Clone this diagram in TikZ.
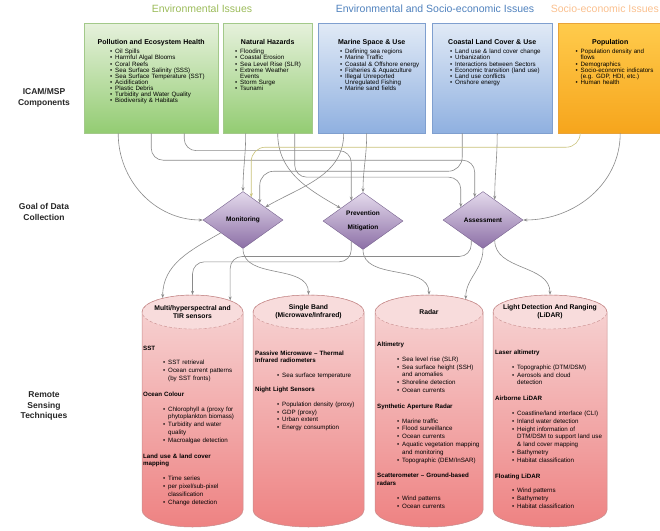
\documentclass[tikz,border=0pt]{standalone}
\usepackage{fontspec}
\setmainfont{Liberation Sans}
\usetikzlibrary{shapes.geometric,arrows.meta}

\definecolor{envgreen}{HTML}{9BBB59}
\definecolor{envblue}{HTML}{4F81BD}
\definecolor{socorange}{HTML}{FAC08F}
\definecolor{greentop}{HTML}{E6F1DC}
\definecolor{greenbot}{HTML}{93CC72}
\definecolor{greenline}{HTML}{A3C98A}
\definecolor{bluetop}{HTML}{E1EAF6}
\definecolor{bluebot}{HTML}{8FB0E0}
\definecolor{blueline}{HTML}{7F9FCF}
\definecolor{orangetop}{HTML}{FFCB4C}
\definecolor{orangebot}{HTML}{F6A51C}
\definecolor{orangeline}{HTML}{E8A33A}
\definecolor{purpletop}{HTML}{E4DAEC}
\definecolor{purplebot}{HTML}{8C6FA6}
\definecolor{purpleline}{HTML}{77628E}
\definecolor{cyltop}{HTML}{F6D0D0}
\definecolor{cylbot}{HTML}{EE8282}
\definecolor{cyledge}{HTML}{C78C8C}
\definecolor{cappink}{HTML}{F8DCDC}
\definecolor{linegray}{HTML}{8A8A8A}
\definecolor{yellowline}{HTML}{C9C27A}

\hyphenpenalty=10000
\exhyphenpenalty=10000
\newlength{\bulletind}
\newcommand{\itm}[1]{\par\noindent\hangindent=\bulletind\hspace*{\dimexpr\bulletind-5pt\relax}\makebox[5pt][l]{\textbullet}#1}
\newcommand{\sect}[2][8pt]{\par\vspace{#1}\noindent\textbf{#2}\par\vspace{7pt}}
\newcommand{\boxtitle}[1]{{\centering\bfseries\fontsize{7}{8}\selectfont #1\par}\vspace{3.5pt}}

\tikzset{
  issue/.style = {font=\fontsize{10.5}{12}\selectfont, inner sep=0pt},
  sidelabel/.style = {font=\bfseries\fontsize{8.5}{10.5}\selectfont, align=center, text=black!85},
  issuebox/.style = {anchor=north west, inner sep=0pt, minimum height=110pt, line width=0.4pt},
  greenbox/.style = {issuebox, top color=greentop, bottom color=greenbot, draw=greenline},
  bluebox/.style = {issuebox, top color=bluetop, bottom color=bluebot, draw=blueline},
  orangebox/.style = {issuebox, top color=orangetop, bottom color=orangebot, draw=orangeline},
  boxtext/.style = {anchor=north, inner sep=0pt, align=left, font=\fontsize{6.2}{6.1}\selectfont},
  goal/.style = {diamond, minimum width=80pt, minimum height=57pt, inner sep=0pt,
    top color=purpletop, bottom color=purplebot, draw=purpleline,
    font=\bfseries\fontsize{6.5}{7.5}\selectfont, align=center},
  cylbody/.style = {top color=cyltop, bottom color=cylbot},
  cylline/.style = {draw=cyledge, line width=0.5pt},
  topcap/.style = {ellipse, minimum height=34pt, inner sep=0pt, fill=cappink, draw=cyledge, densely dashed, line width=0.4pt},
  captitle/.style = {font=\bfseries\fontsize{6.8}{7.6}\selectfont, align=center, inner sep=0pt},
  techtext/.style = {anchor=north west, inner sep=0pt, align=left, font=\fontsize{6.2}{7.8}\selectfont},
  conn/.style = {->, >={Stealth[length=4pt,width=3pt]}, draw=linegray, line width=0.6pt}
}

\begin{document}
\begin{tikzpicture}[x=1pt,y=1pt]
  \useasboundingbox (0,0) rectangle (660,-530);

  % issue headings
  \node[issue, text=envgreen] (envissues) at (202,-9) {Environmental Issues};
  \node[issue, text=envblue] (mixissues) at (435,-9) {Environmental and Socio-economic Issues};
  \node[issue, text=socorange, anchor=east] (socissues) at (659,-9) {Socio-economic Issues};

  % row labels
  \node[sidelabel] (icam) at (44,-98) {ICAM/MSP\\Components};
  \node[sidelabel] (goallabel) at (44,-212) {Goal of Data\\Collection};
  \node[sidelabel] (rslabel) at (44,-406) {Remote\\Sensing\\Techniques};

  % ICAM/MSP components
  \node[greenbox, minimum width=134pt] (pollution) at (84,-23) {};
  \node[greenbox, minimum width=89pt] (hazards) at (223,-23) {};
  \node[bluebox, minimum width=107pt] (marine) at (318,-23) {};
  \node[bluebox, minimum width=120pt] (landcover) at (432,-23) {};
  \node[orangebox, minimum width=104pt] (population) at (558,-23) {};

  \node[boxtext, text width=128pt] (pollutiontext) at ([yshift=-16pt]pollution.north) {\setlength{\bulletind}{28pt}%
    \boxtitle{Pollution and Ecosystem Health}
    \itm{Oil Spills}
    \itm{Harmful Algal Blooms}
    \itm{Coral Reefs}
    \itm{Sea Surface Salinity (SSS)}
    \itm{Sea Surface Temperature (SST)}
    \itm{Acidification}
    \itm{Plastic Debris}
    \itm{Turbidity and Water Quality}
    \itm{Biodiversity \& Habitats}};
  \node[boxtext, text width=83pt] (hazardstext) at ([yshift=-16pt]hazards.north) {\setlength{\bulletind}{14pt}%
    \boxtitle{Natural Hazards}
    \itm{Flooding}
    \itm{Coastal Erosion}
    \itm{Sea Level Rise (SLR)}
    \itm{Extreme Weather\newline Events}
    \itm{Storm Surge}
    \itm{Tsunami}};
  \node[boxtext, text width=101pt] (marinetext) at ([yshift=-16pt]marine.north) {\setlength{\bulletind}{24pt}%
    \boxtitle{Marine Space \& Use}
    \itm{Defining sea regions}
    \itm{Marine Traffic}
    \itm{Coastal \& Offshore energy}
    \itm{Fisheries \& Aquaculture}
    \itm{Illegal Unreported\newline Unregulated Fishing}
    \itm{Marine sand fields}};
  \node[boxtext, text width=114pt] (landcovertext) at ([yshift=-16pt]landcover.north) {\setlength{\bulletind}{20pt}%
    \boxtitle{Coastal Land Cover \& Use}
    \itm{Land use \& land cover change}
    \itm{Urbanization}
    \itm{Interactions between Sectors}
    \itm{Economic transition (land use)}
    \itm{Land use conflicts}
    \itm{Onshore energy}};
  \node[boxtext, text width=97pt] (populationtext) at ([yshift=-16pt]population.north) {\setlength{\bulletind}{19pt}%
    \boxtitle{Population}
    \itm{Population density and\newline flows}
    \itm{Demographics}
    \itm{Socio-economic indicators\newline (e.g. GDP, HDI, etc.)}
    \itm{Human health}};

  % goals
  \node[goal] (monitoring) at (243,-220) {Monitoring};
  \node[goal] (prevention) at (363,-221) {Prevention\\[7pt]Mitigation};
  \node[goal] (assessment) at (483,-220) {Assessment};

  % cylinders
  \shade[cylbody] (142,-312) -- (142,-510) arc[start angle=180,end angle=360,x radius=50.5,y radius=17] -- (243,-312) -- cycle;
  \node[topcap, minimum width=101pt] (msicap) at (192.5,-312) {};
  \draw[cylline] (142,-312) -- (142,-510) arc[start angle=180,end angle=360,x radius=50.5,y radius=17] -- (243,-312) arc[start angle=0,end angle=180,x radius=50.5,y radius=17];

  \shade[cylbody] (253,-312) -- (253,-510) arc[start angle=180,end angle=360,x radius=55.5,y radius=17] -- (364,-312) -- cycle;
  \node[topcap, minimum width=111pt] (singlecap) at (308.5,-312) {};
  \draw[cylline] (253,-312) -- (253,-510) arc[start angle=180,end angle=360,x radius=55.5,y radius=17] -- (364,-312) arc[start angle=0,end angle=180,x radius=55.5,y radius=17];

  \shade[cylbody] (375,-312) -- (375,-510) arc[start angle=180,end angle=360,x radius=54,y radius=17] -- (483,-312) -- cycle;
  \node[topcap, minimum width=108pt] (radarcap) at (429,-312) {};
  \draw[cylline] (375,-312) -- (375,-510) arc[start angle=180,end angle=360,x radius=54,y radius=17] -- (483,-312) arc[start angle=0,end angle=180,x radius=54,y radius=17];

  \shade[cylbody] (493,-312) -- (493,-510) arc[start angle=180,end angle=360,x radius=57,y radius=17] -- (607,-312) -- cycle;
  \node[topcap, minimum width=114pt] (lidarcap) at (550,-312) {};
  \draw[cylline] (493,-312) -- (493,-510) arc[start angle=180,end angle=360,x radius=57,y radius=17] -- (607,-312) arc[start angle=0,end angle=180,x radius=57,y radius=17];

  \node[captitle] (msi) at (msicap) {Multi/hyperspectral and\\TIR sensors};
  \node[captitle] (single) at (singlecap) {Single Band\\(Microwave/Infrared)};
  \node[captitle] (radar) at (radarcap) {Radar};
  \node[captitle] (lidar) at (lidarcap) {Light Detection And Ranging\\(LiDAR)};

  \node[techtext, text width=98pt] (msitext) at (143,-342) {\setlength{\bulletind}{25pt}%
    \sect[0pt]{SST}
    \itm{SST retrieval}
    \itm{Ocean current patterns\newline (by SST fronts)}
    \sect{Ocean Colour}
    \itm{Chlorophyll a (proxy for phytoplankton biomass)}
    \itm{Turbidity and water quality}
    \itm{Macroalgae detection}
    \sect{Land use \& land cover\newline mapping}
    \itm{Time series}
    \itm{per pixel/sub-pixel classification}
    \itm{Change detection}};
  \node[techtext, text width=106pt] (singletext) at (255,-347) {\setlength{\bulletind}{27pt}%
    \sect[0pt]{Passive Microwave -- Thermal\newline Infrared radiometers}
    \itm{Sea surface temperature}
    \sect[6pt]{Night Light Sensors}
    \itm{Population density (proxy)}
    \itm{GDP (proxy)}
    \itm{Urban extent}
    \itm{Energy consumption}};
  \node[techtext, text width=104pt] (radartext) at (377,-338.5) {\setlength{\bulletind}{25pt}%
    \sect[0pt]{Altimetry}
    \itm{Sea level rise (SLR)}
    \itm{Sea surface height (SSH) and anomalies}
    \itm{Shoreline detection}
    \itm{Ocean currents}
    \sect{Synthetic Aperture Radar}
    \itm{Marine traffic}
    \itm{Flood surveillance}
    \itm{Ocean currents}
    \itm{Aquatic vegetation mapping and monitoring}
    \itm{Topographic (DEM/InSAR)}
    \sect{Scatterometer -- Ground-based\newline radars}
    \itm{Wind patterns}
    \itm{Ocean currents}};
  \node[techtext, text width=110pt] (lidartext) at (495,-346.5) {\setlength{\bulletind}{22pt}%
    \sect[0pt]{Laser altimetry}
    \itm{Topographic (DTM/DSM)}
    \itm{Aerosols and cloud\newline detection}
    \sect{Airborne LiDAR}
    \itm{Coastline/land interface (CLI)}
    \itm{Inland water detection}
    \itm{Height information of\newline DTM/DSM to support land use\newline \& land cover mapping}
    \itm{Bathymetry}
    \itm{Habitat classification}
    \sect{Floating LiDAR}
    \itm{Wind patterns}
    \itm{Bathymetry}
    \itm{Habitat classification}};

  % components -> goals
  \draw[conn] ([xshift=-33pt]pollution.south) to[out=-90,in=180] (monitoring.west);
  \draw[conn, rounded corners=12pt] (pollution.south) |- ([yshift=37pt]assessment.110) -- (assessment.110);
  \draw[conn, rounded corners=12pt] ([xshift=33pt]pollution.south) |- ([yshift=50pt]prevention.120) -- (prevention.120);
  \draw[conn] ([xshift=-22pt]hazards.south) to[out=-90,in=90] (monitoring.north);
  \draw[conn] ([xshift=10pt]hazards.south) to[out=-90,in=150] (prevention.150);
  \draw[conn, rounded corners=12pt] ([xshift=27pt]hazards.south) |- ([yshift=30pt]assessment.150) -- (assessment.150);
  \draw[conn] ([xshift=-28pt]marine.south) to[out=-90,in=30] (monitoring.30);
  \draw[conn] ([xshift=-5pt]marine.south) to[out=-90,in=90] (prevention.north);
  \draw[conn, rounded corners=14pt] ([xshift=-30pt]landcover.south) |- ([yshift=32pt]monitoring.45) -- (monitoring.45);
  \draw[conn] ([xshift=5pt]landcover.south) to[out=-90,in=90] (assessment.60);
  \draw[conn, draw=yellowline, rounded corners=14pt] ([xshift=-30pt]population.south) |- ([yshift=50pt]monitoring.70) -- (monitoring.70);
  \draw[conn] ([xshift=10pt]population.south) to[out=-90,in=0] (assessment.east);

  % goals -> techniques
  \draw[conn] (monitoring.210) to[out=-150,in=90] (msicap.155);
  \draw[conn] (monitoring.south) to[out=-90,in=90] (singlecap.north);
  \draw[conn, rounded corners=12pt] (prevention.240) |- ([yshift=33pt]msicap.north) -- (msicap.north);
  \draw[conn] (prevention.south) to[out=-90,in=90] (radarcap.north);
  \draw[conn, rounded corners=12pt] (assessment.240) |- ([yshift=44pt]msicap.17) -- (msicap.17);
  \draw[conn] (assessment.south) to[out=-90,in=90] (radarcap.19);
  \draw[conn] (assessment.300) to[out=-90,in=90] (lidarcap.north);
\end{tikzpicture}
\end{document}
